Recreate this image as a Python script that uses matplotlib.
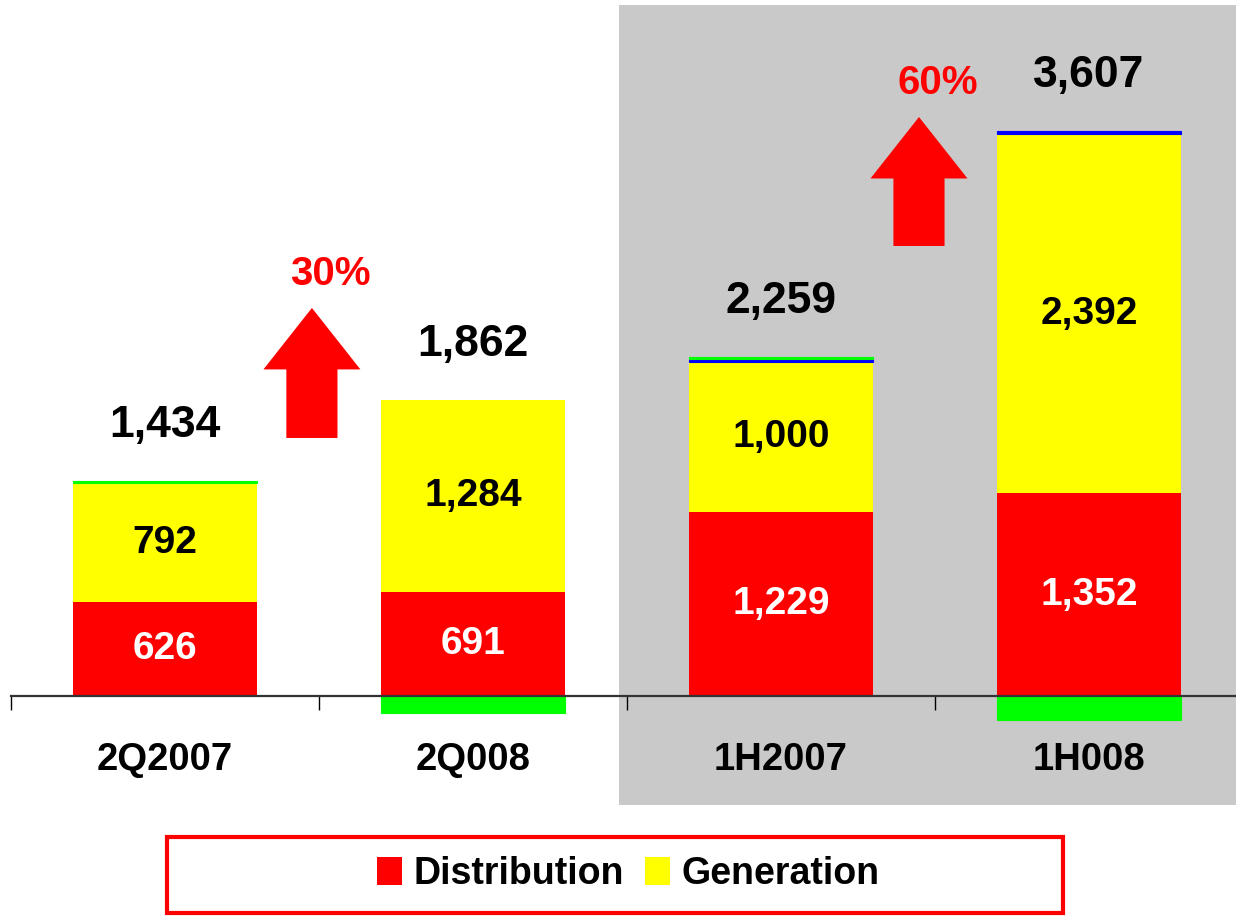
import matplotlib
matplotlib.use("Agg")
import matplotlib.pyplot as plt
from matplotlib.patches import Rectangle
import numpy as np

plt.rcParams["font.family"] = ["Liberation Sans", "DejaVu Sans"]
plt.rcParams["font.weight"] = "bold"

categories = ["2Q2007", "2Q008", "1H2007", "1H008"]
distribution = [626, 691, 1229, 1352]
generation = [792, 1284, 1000, 2392]
other = [0, 0, 18, 25]            # thin blue band
transmission = [16, -113, 12, -162]  # green, can be negative
totals = [1434, 1862, 2259, 3607]
growth = ["30%", "60%"]

RED = "#FF0000"
YELLOW = "#FFFF00"
GREEN = "#00FF00"
BLUE = "#0000FF"

W, H = 1236, 916
fig = plt.figure(figsize=(W / 100, H / 100), dpi=100)

# grey panel behind the half-year bars
fig.add_artist(Rectangle((619 / W, 1 - 805 / H), (W - 619) / W, 800 / H,
                         transform=fig.transFigure, facecolor="#C9C9C9",
                         edgecolor="none", zorder=-1))

ax = fig.add_axes([11 / W, 1 - 805 / H, 1232 / W, 805 / H])
ax.patch.set_visible(False)

x = np.arange(len(categories))
bw = 0.595
dist = np.array(distribution)
gen = np.array(generation)
oth = np.array(other)
tra = np.array(transmission)

ax.bar(x, dist, bw, color=RED, label="Distribution", zorder=2)
ax.bar(x, gen, bw, bottom=dist, color=YELLOW, label="Generation", zorder=2)
ax.bar(x, oth, bw, bottom=dist + gen, color=BLUE, zorder=2,
       edgecolor=BLUE, linewidth=[0.8 if v else 0 for v in other])
tra_bottom = np.where(tra > 0, dist + gen + oth, 0)
ax.bar(x, tra, bw, bottom=tra_bottom, color=GREEN, zorder=2,
       edgecolor=GREEN, linewidth=[0.8 if v else 0 for v in transmission])

# labels inside segments
for i in range(len(x)):
    ax.text(x[i], dist[i] / 2, f"{distribution[i]:,}", ha="center", va="center",
            color="white", fontsize=28, fontweight="bold", zorder=3)
    ax.text(x[i], dist[i] + gen[i] / 2, f"{generation[i]:,}", ha="center",
            va="center", color="black", fontsize=28, fontweight="bold", zorder=3)
    top = dist[i] + gen[i] + oth[i] + max(tra[i], 0)
    ax.annotate(f"{totals[i]:,}", (x[i], top), xytext=(0, 40),
                textcoords="offset points", ha="center", va="center",
                fontsize=32, fontweight="bold", color="black")

# growth arrows
arrows = [(0.477, 1720, 2587), (2.448, 3000, 3860)]
for (ax_x, y0, y1), txt in zip(arrows, growth):
    ax.arrow(ax_x, y0, 0, y1 - y0, width=0.166, head_width=0.315,
             head_length=410, length_includes_head=True,
             facecolor=RED, edgecolor="none", zorder=3)
    ax.text(ax_x + 0.06, y1 + 225, txt, ha="center", va="center",
            color=RED, fontsize=29, fontweight="bold")

ax.set_xlim(-0.5, 3.5)
ax.set_ylim(-727, 4640)

for s in ["top", "left", "right"]:
    ax.spines[s].set_visible(False)
ax.spines["bottom"].set_position(("data", 0))
ax.spines["bottom"].set_linewidth(1.6)
ax.spines["bottom"].set_color("#333333")
ax.spines["bottom"].set_zorder(4)
ax.set_yticks([])

ax.set_xticks(np.arange(-0.5, 4, 1))
ax.set_xticklabels([])
ax.tick_params(axis="x", which="major", direction="out", length=10, width=1)
ax.set_xticks(x, minor=True)
ax.set_xticklabels(categories, minor=True, fontsize=27.5, fontweight="bold")
ax.tick_params(axis="x", which="minor", length=0, pad=33)

# legend with red frame
fig.add_artist(Rectangle((167 / W, 1 - 913 / H), 896 / W, 76 / H,
                         transform=fig.transFigure, facecolor="white",
                         edgecolor=RED, linewidth=3, zorder=1))
handles, labels = ax.get_legend_handles_labels()
leg = fig.legend(handles[:2], labels[:2], loc="center", ncol=2,
                 bbox_to_anchor=(628 / W, 1 - 874 / H), frameon=False,
                 prop={"size": 27, "weight": "bold"}, handlelength=0.68,
                 handleheight=0.75, handletextpad=0.3, columnspacing=0.55)
leg.set_zorder(2)

fig.savefig("out.png", dpi=100)
